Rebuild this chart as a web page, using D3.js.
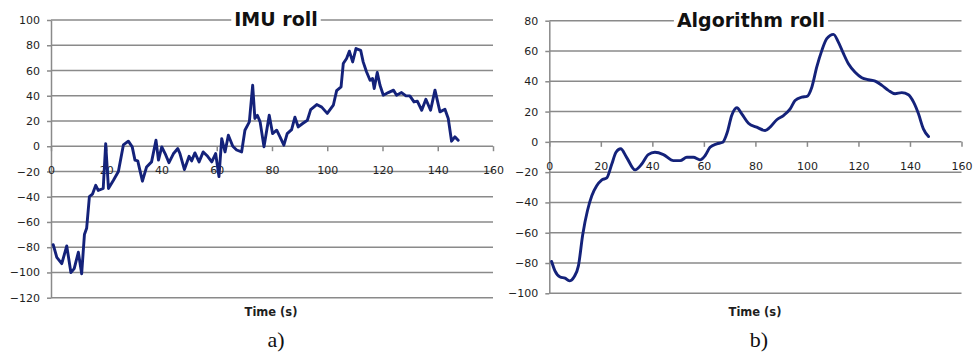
<!DOCTYPE html>
<html><head><meta charset="utf-8">
<script src="https://cdn.jsdelivr.net/npm/d3@7"></script>
<style>
html,body{margin:0;padding:0;background:#fff;}
svg{display:block;}
</style></head>
<body>
<svg id="chart" width="974" height="356"></svg>
<script>
// ---------- data ----------
const xTicks = [0, 20, 40, 60, 80, 100, 120, 140, 160];
const imuYTicks = [-120, -100, -80, -60, -40, -20, 0, 20, 40, 60, 80, 100];
const algYTicks = [-100, -80, -60, -40, -20, 0, 20, 40, 60, 80];

const imuTime = [0.8, 2.1, 3.9, 5.7, 7.2, 8.4, 9.9, 11.1, 12.1, 12.9, 13.9, 15, 16.2, 17.1, 18.9, 19.8, 20.8, 22.6, 24.4, 26.2, 28, 29.4, 30.4, 31.4, 33.1, 34.6, 36.4, 38, 38.9, 40.1, 41.3, 42.7, 44.3, 45.9, 46.7, 48.3, 50, 50.9, 52.1, 53.6, 55.1, 56.7, 58.2, 59.6, 60.8, 61.8, 63, 64.2, 65.8, 67.2, 69, 70.2, 71.8, 73, 73.8, 74.7, 75.7, 77.1, 79, 80.2, 81.7, 82.9, 84.3, 85.5, 87.1, 88.3, 89.5, 91.1, 92.8, 94, 96.2, 98, 100, 102.2, 103.4, 105, 105.8, 107, 108, 109.2, 110.4, 112.1, 113, 114.2, 115.5, 116.4, 117, 118.1, 119.1, 120.3, 122.1, 124, 125.1, 126.9, 128.5, 129.9, 131.4, 132.6, 134.2, 135.7, 137.4, 139, 140.8, 142.6, 143.8, 145, 146.2, 147.4];
const imuRoll = [-78, -88, -93, -79, -100, -97, -84, -101, -70, -65, -40, -38, -31, -35, -33.5, 2, -33.5, -27, -20, 1, 4, -0.5, -11, -11.6, -27.7, -16.4, -12.4, 4.8, -11, -0.5, -5.8, -13, -6, -1.8, -6, -18.5, -8, -11.6, -5.3, -12.4, -4.5, -8, -12.4, -5.8, -24, 6, -4.5, 8.7, 0, -3, -4.5, 12.7, 19.3, 48.3, 22, 24.5, 19.3, -0.5, 24.5, 10, 12.7, 7.4, 0.8, 10, 13.2, 23, 15.3, 18, 20.6, 29, 33, 31, 26, 32.5, 44, 47, 65.5, 69.5, 75.3, 66.8, 77.4, 76, 66.8, 59, 52.3, 53.6, 45.7, 58.4, 48.3, 40.4, 42.5, 44.4, 40.4, 42.5, 39.9, 39.9, 35.1, 35.7, 28.5, 37.2, 28.5, 44.4, 27.2, 29.3, 22, 4, 7.4, 4.8];

const algTime = [0.9, 2.2, 4.2, 6.1, 7.8, 9.6, 11.3, 13, 14.8, 16.5, 18.4, 20.3, 22.3, 24.2, 25.9, 27.7, 30, 33.3, 35.9, 38.4, 41, 44.3, 48.2, 50.8, 53.4, 55.9, 58.5, 60.5, 62.4, 65, 67.3, 69.1, 70.8, 72.8, 74.7, 77.3, 80.5, 83.8, 85.7, 88.3, 90.9, 93.5, 95.4, 98, 100, 101.9, 103.8, 105.8, 107.7, 110.3, 112.2, 114.2, 116.1, 118.7, 121.3, 123.9, 126.5, 129.1, 131.6, 134.2, 136.8, 139.4, 141.4, 143.3, 145.2, 147.2];
const algRoll = [-79, -85.2, -89.2, -90, -91.8, -89.2, -81.9, -61, -45.5, -35.6, -29, -25.2, -23.8, -15, -6.9, -4.6, -10.2, -18.5, -14.6, -8.4, -6.9, -8.4, -12.4, -12.4, -10.2, -10.2, -11.9, -9, -3.6, -1.3, -0.3, 6.4, 17.4, 22.5, 18.5, 12.3, 9.7, 7.5, 9.7, 14.6, 17.4, 21.8, 27.3, 29.5, 30, 36.1, 49.3, 60.4, 68.1, 71, 65.9, 58.2, 51.6, 46, 42.4, 41, 40.1, 37.3, 34, 31.8, 32.5, 31.1, 26.2, 18.5, 8.6, 3.5];

// ---------- drawing ----------
const svg = d3.select("#chart");
const GRID = "#8a8a8a";
const LINE = "#14227a";
const TXT = "#1e1e1e";
const FONT = "'DejaVu Sans', sans-serif";

function panel(cfg) {
  const g = svg.append("g");
  const x = d3.scaleLinear().domain([0, 160]).range([cfg.x0, cfg.x1]);
  const y = d3.scaleLinear().domain([cfg.yTicks[0], cfg.yTicks[cfg.yTicks.length - 1]]).range([cfg.yb, cfg.yt]);

  // gridlines
  g.append("g").selectAll("line").data(cfg.yTicks).join("line")
    .attr("x1", cfg.x0).attr("x2", cfg.x1)
    .attr("y1", d => y(d)).attr("y2", d => y(d))
    .attr("stroke", GRID).attr("stroke-width", 1.5);

  // y axis
  const ya = g.append("g").attr("transform", `translate(${cfg.x0},0)`)
    .call(d3.axisLeft(y).tickValues(cfg.yTicks).tickSize(4).tickSizeOuter(0).tickPadding(7)
      .tickFormat(d => d < 0 ? "\u2212" + Math.abs(d) : d));
  ya.select(".domain").attr("stroke", GRID).attr("stroke-width", 1.5);
  ya.selectAll(".tick line").attr("stroke", GRID).attr("stroke-width", 1.5);
  ya.selectAll("text").attr("font-family", FONT).attr("font-size", 11).attr("fill", TXT);

  // x axis at zero
  const xa = g.append("g").attr("transform", `translate(0,${y(0)})`)
    .call(d3.axisBottom(x).tickValues(xTicks).tickSize(5).tickSizeOuter(0).tickPadding(cfg.xPad));
  xa.select(".domain").remove();
  xa.selectAll(".tick line").attr("stroke", GRID).attr("stroke-width", 1.5);
  xa.selectAll("text").attr("font-family", FONT).attr("font-size", 11).attr("fill", TXT);

  // line
  const line = d3.line().x((d, i) => x(cfg.t[i])).y(d => y(d)).curve(cfg.curve);
  g.append("path").datum(cfg.v).attr("d", line)
    .attr("fill", "none").attr("stroke", LINE).attr("stroke-width", 2.9)
    .attr("stroke-linejoin", "round").attr("stroke-linecap", "round");

  // title with white background
  const tg = g.append("g");
  const tt = tg.append("text").attr("x", cfg.titleX).attr("y", cfg.titleY)
    .attr("text-anchor", "middle").attr("font-family", FONT).attr("font-weight", "bold")
    .attr("font-size", cfg.titleSize).attr("fill", "#111").text(cfg.title);
  const bb = tt.node().getBBox();
  tg.insert("rect", "text").attr("x", bb.x - 3).attr("y", bb.y).attr("width", bb.width + 6)
    .attr("height", bb.height).attr("fill", "#fff");

  // axis title
  g.append("text").attr("x", cfg.axisTitleX).attr("y", 316).attr("text-anchor", "middle")
    .attr("font-family", FONT).attr("font-weight", "bold").attr("font-size", 11.5)
    .attr("fill", TXT).text("Time (s)");

  // panel label
  g.append("text").attr("x", cfg.labelX).attr("y", 347).attr("text-anchor", "middle")
    .attr("font-family", "'Liberation Serif', 'Times New Roman', serif").attr("font-size", 22)
    .attr("fill", "#111").text(cfg.label);
}

panel({
  x0: 51, x1: 493, yt: 20, yb: 297.7, yTicks: imuYTicks, xPad: 15,
  t: imuTime, v: imuRoll, curve: d3.curveLinear,
  title: "IMU roll", titleX: 276, titleY: 26, titleSize: 19,
  axisTitleX: 271, label: "a)", labelX: 276
});

panel({
  x0: 549.3, x1: 961.5, yt: 20.7, yb: 293.3, yTicks: algYTicks, xPad: 15,
  t: algTime, v: algRoll, curve: d3.curveMonotoneX,
  title: "Algorithm roll", titleX: 751, titleY: 27, titleSize: 19,
  axisTitleX: 755, label: "b)", labelX: 759
});
</script>
</body></html>
